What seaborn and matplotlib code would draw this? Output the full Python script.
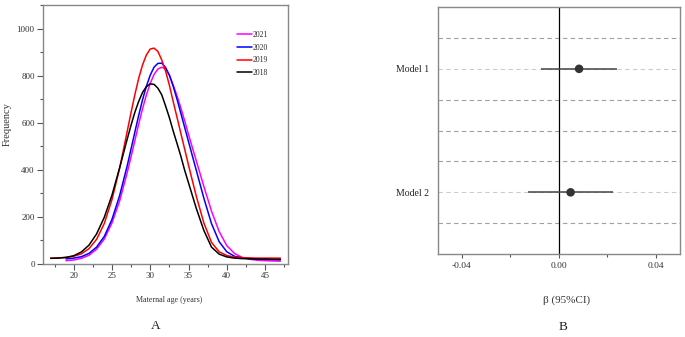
import matplotlib
matplotlib.use("Agg")
from matplotlib import pyplot as plt
from matplotlib.ticker import MultipleLocator, FormatStrFormatter
import pandas as pd
import seaborn as sns

# 数据: 孕产妇年龄分布曲线 (A)
ages_1819 = [17, 18, 19, 20, 21, 22, 23, 24, 25, 26,
             27, 27.5, 28, 28.5, 29, 29.5, 30, 30.5, 31, 31.5, 32, 32.5, 33, 33.5, 34, 34.5, 35,
             36, 37, 38, 39, 40, 41, 42, 43, 44, 45, 46, 47]
ages_2021 = [19, 20, 21, 22, 23, 24, 25, 26,
             27, 27.5, 28, 28.5, 29, 29.5, 30, 30.5, 31, 31.5, 32, 32.5, 33, 33.5, 34, 34.5, 35,
             36, 37, 38, 39, 40, 41, 42, 43, 44, 45, 46, 47]
freq_2018 = [24, 25, 28, 35, 51, 80, 128, 198, 292, 408,
             531, 590, 645, 691, 729, 753, 765, 763, 747, 719, 672, 622, 565, 512, 458, 398, 345,
             238, 143, 72, 42, 30, 25, 23, 22, 21, 21, 20, 20]
freq_2019 = [25, 26, 28, 33, 43, 65, 105, 172, 273, 406,
             564, 644, 720, 789, 846, 888, 913, 917, 903, 867, 820, 760, 690, 623, 555, 488, 420,
             290, 175, 92, 52, 36, 29, 27, 26, 25, 25, 25, 25]
freq_2020 = [22, 25, 31, 45, 72, 117, 189, 290,
             418, 489, 561, 632, 698, 755, 802, 836, 852, 853, 835, 802, 755, 700, 640, 580, 520,
             400, 280, 172, 95, 52, 33, 26, 23, 21, 20, 19, 18]
freq_2021 = [14, 17, 24, 37, 63, 106, 174, 267,
             389, 456, 525, 595, 660, 718, 767, 805, 828, 836, 828, 803, 760, 714, 663, 608, 550,
             440, 330, 225, 138, 78, 45, 28, 20, 16, 14, 13, 12]
years = ["2021", "2020", "2019", "2018"]
year_colors = {"2021": "#ff00ff", "2020": "#0000ff", "2019": "#ff0000", "2018": "#000000"}

# 数据: 森林图 (B)
models = ["Model 1", "Model 2"]
beta = [0.0083, 0.0048]
ci_low = [-0.0073, -0.0126]
ci_high = [0.0239, 0.0221]

sns.set_style("ticks")
plt.rcParams['font.family'] = ['Liberation Serif', 'DejaVu Serif']
plt.rcParams['axes.unicode_minus'] = False

frames = []
for yr, ages, vals in [("2021", ages_2021, freq_2021), ("2020", ages_2021, freq_2020),
                       ("2019", ages_1819, freq_2019), ("2018", ages_1819, freq_2018)]:
    frames.append(pd.DataFrame({"age": ages, "freq": vals, "year": yr}))
df = pd.concat(frames, ignore_index=True)

fig = plt.figure(figsize=(6.85, 3.37), dpi=100)
axA = fig.add_axes([0.0628, 0.2166, 0.3577, 0.7685])
axB = fig.add_axes([0.639, 0.246, 0.354, 0.733])

# ---- A ----
sns.lineplot(data=df, x="age", y="freq", hue="year", hue_order=years,
             palette=year_colors, linewidth=1.1, ax=axA, legend=True)
axA.set_xlim(16, 48)
axA.set_ylim(0, 1100)
axA.xaxis.set_major_locator(MultipleLocator(5))
axA.xaxis.set_minor_locator(MultipleLocator(2.5))
axA.yaxis.set_major_locator(MultipleLocator(200))
axA.yaxis.set_minor_locator(MultipleLocator(100))
axA.tick_params(which="major", length=4, width=0.8, color="#555555",
                labelsize=6.5, labelcolor="#333333", pad=2)
axA.tick_params(which="minor", length=2, width=0.8, color="#555555")
for s in axA.spines.values():
    s.set_color("#888888")
    s.set_linewidth(1.0)
axA.set_xlabel("Maternal age (years)", fontsize=5.8, color="#333333")
axA.set_ylabel("Frequency", fontsize=7.5, color="#333333")
axA.xaxis.set_label_coords(0.514, -0.124)
axA.yaxis.set_label_coords(-0.127, 0.54)
axA.legend(loc="upper left", bbox_to_anchor=(0.79, 0.9), frameon=False,
           fontsize=5.5, handlelength=2.0, handletextpad=0.1, labelspacing=0.62,
           borderpad=0, borderaxespad=0)

# ---- B ----
pos = list(range(len(models)))
for yl in [-0.25, 0.25, 0.5, 0.75, 1.25]:
    axB.axhline(yl, color="#a0a0a0", lw=0.8, ls=(0, (4, 3)), zorder=1)
for yl in pos:
    axB.axhline(yl, color="#cccccc", lw=0.8, ls=(0, (4, 3)), zorder=1)
axB.axvline(0, color="black", lw=0.9, zorder=2)
axB.hlines(pos, ci_low, ci_high, color="#444444", lw=1.1, zorder=3)
sns.scatterplot(x=beta, y=pos, color="#333333", s=38, edgecolor="none",
                zorder=4, ax=axB)
axB.set_xlim(-0.05, 0.05)
axB.set_ylim(1.5, -0.5)
axB.set_yticks(pos)
axB.set_yticklabels(models)
axB.xaxis.set_major_locator(MultipleLocator(0.04))
axB.xaxis.set_minor_locator(MultipleLocator(0.02))
axB.xaxis.set_major_formatter(FormatStrFormatter("%.2f"))
axB.tick_params(axis="y", length=0, labelsize=7, pad=6, labelcolor="#222222")
axB.tick_params(axis="x", which="major", length=3, width=0.8, color="#555555",
                labelsize=6.8, labelcolor="#333333", pad=3)
axB.tick_params(axis="x", which="minor", length=2, width=0.8, color="#555555")
for s in axB.spines.values():
    s.set_color("#888888")
    s.set_linewidth(1.0)
axB.set_xlabel("β (95%CI)", fontsize=8, color="#333333")
axB.xaxis.set_label_coords(0.533, -0.166)

fig.text(0.227, 0.033, "A", fontsize=9.5, ha="center", va="center", color="#222222")
fig.text(0.822, 0.030, "B", fontsize=9.5, ha="center", va="center", color="#222222")

plt.savefig("out.png", dpi=100)
